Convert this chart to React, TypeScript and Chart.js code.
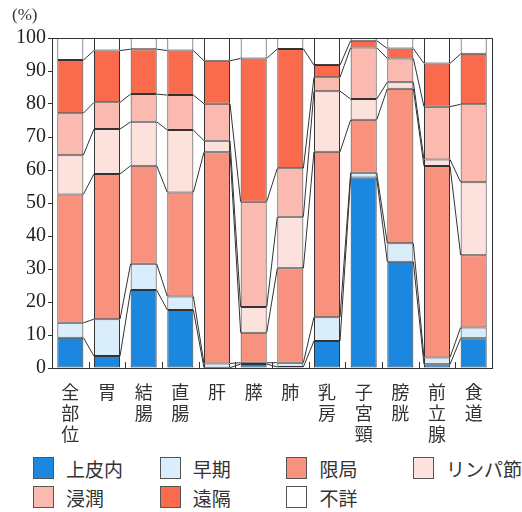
import React, { useEffect, useRef } from "react";
import { Chart, registerables } from "chart.js";

Chart.register(...registerables);

const categories: string[][] = [
  ["全", "部", "位"], ["胃"], ["結", "腸"], ["直", "腸"], ["肝"], ["膵"],
  ["肺"], ["乳", "房"], ["子", "宮", "頸"], ["膀", "胱"], ["前", "立", "腺"], ["食", "道"],
];

const seriesNames = ["上皮内", "早期", "限局", "リンパ節", "浸潤", "遠隔", "不詳"];
const seriesColors = ["#1b87de", "#d9edfb", "#f9917f", "#fde1dd", "#fbbab0", "#fa6b4e", "#ffffff"];

const jouhinai = [9.2, 3.6, 23.6, 17.6, 0.1, 1.2, 0.3, 8.2, 57.7, 32.2, 1.1, 9.0];
const souki = [4.5, 11.2, 8.0, 4.1, 1.3, 0.4, 1.3, 7.2, 1.5, 5.6, 2.1, 3.3];
const genkyoku = [38.9, 44.0, 29.7, 31.5, 64.0, 9.1, 28.6, 50.1, 16.0, 46.8, 58.0, 21.9];
const lymph = [11.9, 13.6, 13.3, 18.9, 3.5, 7.8, 15.6, 18.4, 6.3, 2.0, 2.0, 22.1];
const shinjun = [12.7, 8.1, 8.4, 10.6, 11.2, 31.9, 14.7, 4.2, 15.6, 7.2, 16.0, 23.6];
const enkaku = [16.1, 15.7, 13.6, 13.5, 13.0, 43.4, 36.2, 3.7, 2.1, 3.0, 13.1, 15.3];
const fushou = [6.7, 3.8, 3.4, 3.8, 6.9, 6.2, 3.3, 8.2, 0.8, 3.2, 7.7, 4.8];

const seriesValues = [jouhinai, souki, genkyoku, lymph, shinjun, enkaku, fushou];

const yTicks = [0, 10, 20, 30, 40, 50, 60, 70, 80, 90, 100];

const LINE = "#333333";
const CJK = "'Noto Sans CJK JP', sans-serif";
const SERIF = "\"Liberation Serif\", serif";

const framePlugin = {
  id: "framePlugin",
  afterDraw(chart: any) {
    const ctx = chart.ctx;
    const area = chart.chartArea;
    ctx.save();
    ctx.strokeStyle = LINE;
    ctx.lineWidth = 1;
    const n = chart.data.labels.length;
    for (let d = 0; d < chart.data.datasets.length - 1; d++) {
      const meta = chart.getDatasetMeta(d);
      for (let i = 0; i < n - 1; i++) {
        const a = meta.data[i] as any;
        const b = meta.data[i + 1] as any;
        ctx.beginPath();
        ctx.moveTo(a.x + a.width / 2, a.y);
        ctx.lineTo(b.x - b.width / 2, b.y);
        ctx.stroke();
      }
    }
    ctx.strokeRect(Math.round(area.left) + 0.5, Math.round(area.top) + 0.5,
      Math.round(area.right - area.left), Math.round(area.bottom - area.top));
    const xs = chart.scales.x;
    for (let i = 1; i < n; i++) {
      const px = Math.round((xs.getPixelForValue(i - 1) + xs.getPixelForValue(i)) / 2) + 0.5;
      ctx.beginPath();
      ctx.moveTo(px, area.bottom);
      ctx.lineTo(px, area.bottom - 6);
      ctx.stroke();
    }
    ctx.fillStyle = "#333";
    ctx.font = "17px " + SERIF;
    ctx.textBaseline = "top";
    ctx.textAlign = "left";
    ctx.fillText("(%)", 12, 7);
    ctx.restore();
  },
};

export default function App() {
  const ref = useRef<HTMLCanvasElement | null>(null);

  useEffect(() => {
    if (!ref.current) return;
    const chart = new Chart(ref.current, {
      type: "bar",
      data: {
        labels: categories,
        datasets: seriesNames.map((name, k) => ({
          label: name,
          data: seriesValues[k],
          backgroundColor: seriesColors[k],
          borderColor: LINE,
          borderWidth: 1,
          borderSkipped: false,
          categoryPercentage: 1,
          barPercentage: 0.71,
        })),
      },
      options: {
        responsive: false,
        animation: false,
        layout: { padding: { top: 38, right: 30, left: 0, bottom: 0 } },
        plugins: { legend: { display: false }, tooltip: { enabled: false } },
        scales: {
          x: {
            stacked: true,
            grid: { display: false },
            border: { display: true, color: LINE },
            ticks: {
              autoSkip: false,
              maxRotation: 0,
              minRotation: 0,
              padding: 6,
              color: "#333",
              font: { family: CJK, size: 18, lineHeight: 1.15 },
            },
            afterFit(scale: any) {
              scale.height = 82;
            },
          },
          y: {
            stacked: true,
            min: 0,
            max: 100,
            afterBuildTicks(scale: any) {
              scale.ticks = yTicks.map((v) => ({ value: v }));
            },
            grid: { drawOnChartArea: false, drawTicks: true, tickLength: 4, color: LINE },
            border: { display: true, color: LINE },
            ticks: {
              padding: 2,
              color: "#222",
              font: { family: SERIF, size: 20 },
            },
            afterFit(scale: any) {
              scale.width = 52;
            },
          },
        },
      },
      plugins: [framePlugin],
    });
    return () => chart.destroy();
  }, []);

  return (
    <div style={{ position: "absolute", left: 0, top: 0, width: 522, height: 512, background: "#fff" }}>
      <canvas ref={ref} width={522} height={450} style={{ display: "block", width: 522, height: 450 }} />
      {seriesNames.map((name, k) => {
        const col = k < 4 ? k : k - 4;
        const row = k < 4 ? 0 : 1;
        return (
          <div
            key={name}
            style={{
              position: "absolute",
              left: 33 + col * 126.7,
              top: 456 + row * 29,
              display: "flex",
              alignItems: "center",
              height: 24,
              fontFamily: CJK,
              fontSize: 19,
              color: "#333",
              whiteSpace: "nowrap",
            }}
          >
            <span
              style={{
                display: "inline-block",
                width: 21,
                height: 22,
                background: seriesColors[k],
                border: "1px solid #555",
                boxSizing: "border-box",
                marginRight: 12,
              }}
            />
            {name}
          </div>
        );
      })}
    </div>
  );
}
